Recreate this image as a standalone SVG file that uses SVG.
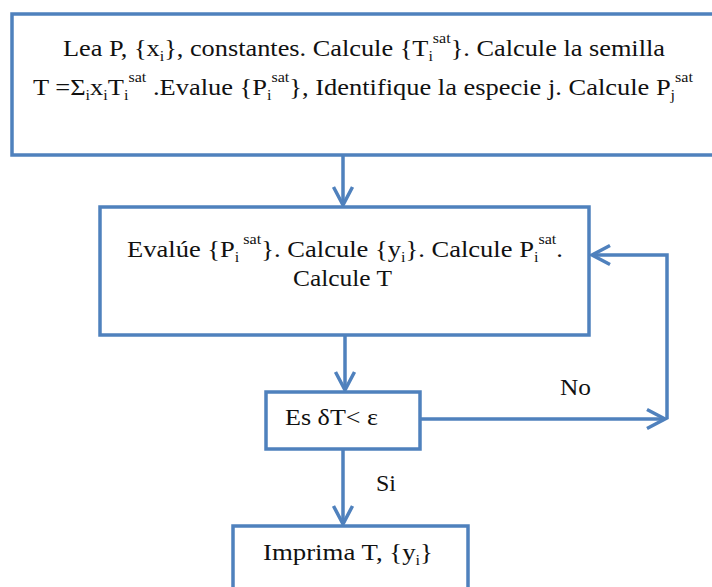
<svg xmlns="http://www.w3.org/2000/svg" width="712" height="587" viewBox="0 0 712 587">
<style>
.box{fill:#fff;stroke:#4F81BD;stroke-width:3.5}
.con{fill:none;stroke:#4F81BD;stroke-width:3.5}
text{font-family:"Liberation Serif","Times New Roman",serif;font-size:23px;fill:#111}
.s{font-size:14px}
</style>
<defs>
<marker id="ah" markerUnits="userSpaceOnUse" markerWidth="30" markerHeight="30" viewBox="-20 -15 30 30" refX="0" refY="0" orient="auto">
<path d="M-18,-9.5 L0,0 L-18,9.5" fill="none" stroke="#4F81BD" stroke-width="3.5"/>
</marker>
</defs>
<rect width="712" height="587" fill="#fff"/>
<g id="connectors">
<path class="con" d="M343,155 L343,205" marker-end="url(#ah)"/>
<path class="con" d="M345,335 L345,390" marker-end="url(#ah)"/>
<path class="con" d="M420,419 L665,419" marker-end="url(#ah)"/>
<path class="con" d="M667,419 L667,255 L592,255" marker-end="url(#ah)"/>
<path class="con" d="M343,449 L343,524" marker-end="url(#ah)"/>
<text x="560" y="395" textLength="31" lengthAdjust="spacingAndGlyphs">No</text>
<text x="376" y="491" textLength="20" lengthAdjust="spacingAndGlyphs">Si</text>
</g>
<g id="n1">
<rect class="box" x="12" y="14" width="712" height="141"/>
<text x="63" y="56" textLength="602" lengthAdjust="spacingAndGlyphs">Lea P, {x<tspan class="s" dy="5">i</tspan><tspan dy="-5">}, constantes. Calcule {T</tspan><tspan class="s" dy="5">i</tspan><tspan class="s" dy="-18">sat</tspan><tspan dy="13">}. Calcule la semilla</tspan></text>
<text x="33" y="95" textLength="660" lengthAdjust="spacingAndGlyphs">T =Σ<tspan class="s" dy="5">i</tspan><tspan dy="-5">x</tspan><tspan class="s" dy="5">i</tspan><tspan dy="-5">T</tspan><tspan class="s" dy="5">i</tspan><tspan class="s" dy="-18">sat</tspan><tspan dy="13"> .Evalue {P</tspan><tspan class="s" dy="5">i</tspan><tspan class="s" dy="-18">sat</tspan><tspan dy="13">}, Identifique la especie j. Calcule P</tspan><tspan class="s" dy="5">j</tspan><tspan class="s" dy="-18">sat</tspan></text>
</g>
<g id="n2">
<rect class="box" x="100" y="207" width="489" height="128"/>
<text x="127" y="257" textLength="436" lengthAdjust="spacingAndGlyphs">Evalúe {P<tspan class="s" dy="5">i</tspan><tspan class="s" dy="-18"> sat</tspan><tspan dy="13">}. Calcule {y</tspan><tspan class="s" dy="5">i</tspan><tspan dy="-5">}. Calcule P</tspan><tspan class="s" dy="5">i</tspan><tspan class="s" dy="-18">sat</tspan><tspan dy="13">.</tspan></text>
<text x="293" y="286" textLength="99" lengthAdjust="spacingAndGlyphs">Calcule T</text>
</g>
<g id="n3">
<rect class="box" x="266" y="392" width="154" height="57"/>
<text x="285" y="425" textLength="93" lengthAdjust="spacingAndGlyphs">Es δT&lt; ε</text>
</g>
<g id="n4">
<rect class="box" x="233" y="526" width="235" height="80"/>
<text x="263" y="560" textLength="170" lengthAdjust="spacingAndGlyphs">Imprima T, {y<tspan class="s" dy="5">i</tspan><tspan dy="-5">}</tspan></text>
</g>
</svg>
